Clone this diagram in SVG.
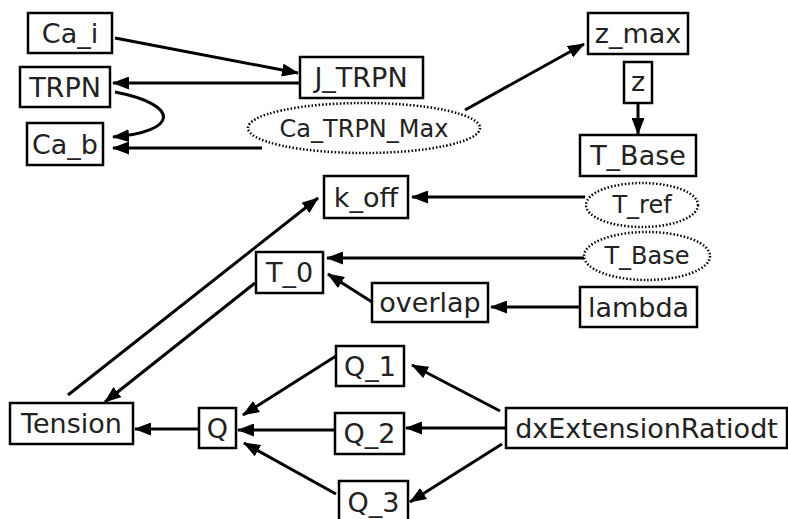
<svg xmlns="http://www.w3.org/2000/svg" width="788" height="519" viewBox="0 0 788 519">
<style>
.box{fill:#fff;stroke:#000;stroke-width:2.5}
.ell{fill:#fff;stroke:#000;stroke-width:2.5;stroke-dasharray:1.5 2}
.t{font-family:"DejaVu Sans",sans-serif;font-size:27px;text-anchor:middle;fill:#222}
.ts{font-family:"DejaVu Sans",sans-serif;font-size:24px;text-anchor:middle;fill:#222}
.c{fill:none;stroke:#000;stroke-width:3;marker-end:url(#ah)}
</style>
<defs>
<marker id="ah" viewBox="0 0 17 13" refX="16" refY="6.5" markerWidth="17" markerHeight="13" markerUnits="userSpaceOnUse" orient="auto">
<path d="M0,0 L17,6.5 L0,13 z" fill="#000"/>
</marker>
</defs>
<g id="connectors">
<path class="c" d="M115,38 L298,73"/>
<path class="c" d="M300,83 L113,83"/>
<path class="c" d="M115,92 C182,105 178,132 113,137"/>
<path class="c" d="M262,148 L113,148"/>
<path class="c" d="M465,110 L584,44"/>
<path class="c" d="M638,103 L638,134"/>
<path class="c" d="M585,197 L412,197"/>
<path class="c" d="M584,258 L327,258"/>
<path class="c" d="M372,302 L328,274"/>
<path class="c" d="M580,307 L491,307"/>
<path class="c" d="M68,395 L318,198"/>
<path class="c" d="M255,283 L105,402"/>
<path class="c" d="M199,429 L135,429"/>
<path class="c" d="M336,356 L243,415"/>
<path class="c" d="M335,430 L238,430"/>
<path class="c" d="M336,494 L244,443"/>
<path class="c" d="M500,411 L412,365"/>
<path class="c" d="M506,428 L406,428"/>
<path class="c" d="M502,444 L410,502"/>
</g>
<g id="Ca_i"><rect class="box" x="28" y="13" width="84" height="40"/><text class="t" x="70" y="43">Ca_i</text></g>
<g id="TRPN"><rect class="box" x="20" y="67" width="90" height="40"/><text class="t" x="65" y="97">TRPN</text></g>
<g id="Ca_b"><rect class="box" x="27" y="123" width="76" height="42"/><text class="t" x="65" y="154">Ca_b</text></g>
<g id="J_TRPN"><rect class="box" x="300" y="57" width="123" height="41"/><text class="t" x="361" y="87">J_TRPN</text></g>
<g id="Ca_TRPN_Max"><ellipse class="ell" cx="364" cy="128" rx="116" ry="25"/><text class="ts" x="364" y="137">Ca_TRPN_Max</text></g>
<g id="z_max"><rect class="box" x="588" y="13" width="100" height="41"/><text class="t" x="638" y="43">z_max</text></g>
<g id="z"><rect class="box" x="624" y="62" width="28" height="41"/><text class="t" x="638" y="91">z</text></g>
<g id="T_Base"><rect class="box" x="580" y="135" width="116" height="41"/><text class="t" x="638" y="165">T_Base</text></g>
<g id="k_off"><rect class="box" x="324" y="176" width="84" height="42"/><text class="t" x="366" y="207">k_off</text></g>
<g id="T_ref"><ellipse class="ell" cx="642" cy="205" rx="56" ry="22"/><text class="ts" x="642" y="213">T_ref</text></g>
<g id="T_Base_ref"><ellipse class="ell" cx="647" cy="256" rx="63" ry="24"/><text class="ts" x="647" y="264">T_Base</text></g>
<g id="T_0"><rect class="box" x="256" y="252" width="67" height="41"/><text class="t" x="289.5" y="282">T_0</text></g>
<g id="overlap"><rect class="box" x="372" y="283" width="116" height="39"/><text class="t" x="430" y="312">overlap</text></g>
<g id="lambda"><rect class="box" x="580" y="287" width="117" height="40"/><text class="t" x="638.5" y="317">lambda</text></g>
<g id="Tension"><rect class="box" x="10" y="403" width="123" height="41"/><text class="t" x="71.5" y="433">Tension</text></g>
<g id="Q"><rect class="box" x="199" y="408" width="37" height="40"/><text class="t" x="217.5" y="438">Q</text></g>
<g id="Q_1"><rect class="box" x="336" y="346" width="68" height="40"/><text class="t" x="370" y="376">Q_1</text></g>
<g id="Q_2"><rect class="box" x="335" y="413" width="69" height="41"/><text class="t" x="369.5" y="443">Q_2</text></g>
<g id="Q_3"><rect class="box" x="339" y="481" width="69" height="42"/><text class="t" x="373.5" y="512">Q_3</text></g>
<g id="dxExtensionRatiodt"><rect class="box" x="506" y="408" width="281" height="40"/><text class="t" x="646.5" y="438">dxExtensionRatiodt</text></g>
</svg>
